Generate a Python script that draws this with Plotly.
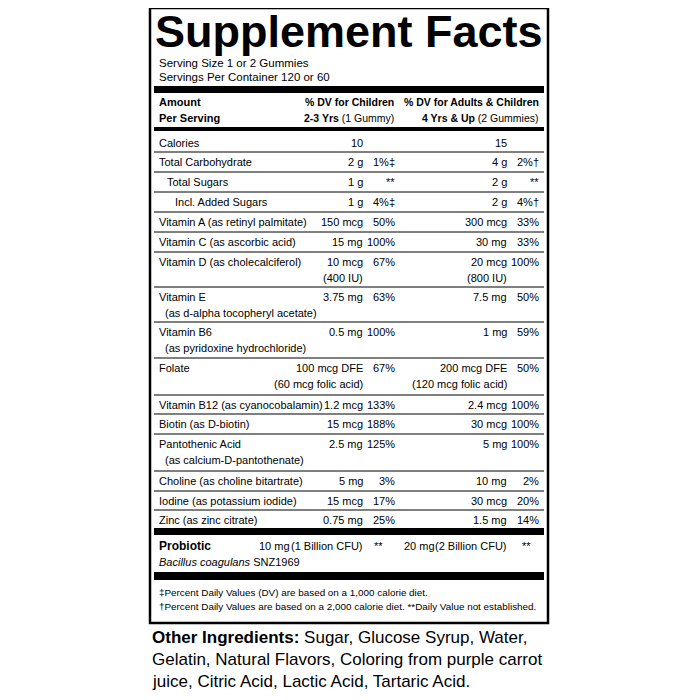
import plotly.graph_objects as go

NARROW = "Liberation Sans Narrow, Arial Narrow, Liberation Sans"
BASE = 11

# rows: label lines, child amount lines, child dv, adult amount lines, adult dv, label indent
labels = [["Calories"], ["Total Carbohydrate"], ["Total Sugars"], ["Incl. Added Sugars"],
          ["Vitamin A (as retinyl palmitate)"], ["Vitamin C (as ascorbic acid)"],
          ["Vitamin D (as cholecalciferol)"], ["Vitamin E", "(as d-alpha tocopheryl acetate)"],
          ["Vitamin B6", "(as pyridoxine hydrochloride)"], ["Folate"],
          ["Vitamin B12 (as cyanocobalamin)"], ["Biotin (as D-biotin)"],
          ["Pantothenic Acid", "(as calcium-D-pantothenate)"], ["Choline (as choline bitartrate)"],
          ["Iodine (as potassium iodide)"], ["Zinc (as zinc citrate)"]]
indents = [0, 0, 8, 16, 0, 0, 0, 0, 0, 0, 0, 0, 0, 0, 0, 0]
child_amt = [["10"], ["2 g"], ["1 g"], ["1 g"], ["150 mcg"], ["15 mg"], ["10 mcg", "(400 IU)"],
             ["3.75 mg"], ["0.5 mg"], ["100 mcg DFE", "(60 mcg folic acid)"], ["1.2 mcg"],
             ["15 mcg"], ["2.5 mg"], ["5 mg"], ["15 mcg"], ["0.75 mg"]]
child_dv = ["", "1%‡", "**", "4%‡", "50%", "100%", "67%", "63%", "100%", "67%", "133%",
            "188%", "125%", "3%", "17%", "25%"]
adult_amt = [["15"], ["4 g"], ["2 g"], ["2 g"], ["300 mcg"], ["30 mg"], ["20 mcg", "(800 IU)"],
             ["7.5 mg"], ["1 mg"], ["200 mcg DFE", "(120 mcg folic acid)"], ["2.4 mcg"],
             ["30 mcg"], ["5 mg"], ["10 mg"], ["30 mcg"], ["1.5 mg"]]
adult_dv = ["", "2%†", "**", "4%†", "33%", "33%", "100%", "50%", "59%", "50%", "100%",
            "100%", "100%", "2%", "20%", "14%"]
row_tops = [133, 152, 172, 192, 212, 232, 252, 287, 322, 358, 395, 414, 434, 471, 491, 510, 528]

fig = go.Figure()
ann = []
shapes = []

def T(x, y, s, size=BASE, anchor="left", bold=False, italic=False, fam=NARROW):
    if bold:
        s = "<b>" + s + "</b>"
    if italic:
        s = "<i>" + s + "</i>"
    ann.append(dict(x=x, y=y, text=s, xref="x", yref="y", showarrow=False, xanchor=anchor,
                    yanchor="middle", font=dict(family=fam, size=size, color="black")))

def R(x0, y0, x1, y1):
    shapes.append(dict(type="rect", x0=x0, y0=y0, x1=x1, y1=y1, xref="x", yref="y",
                       fillcolor="black", line=dict(width=0)))

def L(x0, y0, x1, y1, w=1):
    shapes.append(dict(type="line", x0=x0, y0=y0, x1=x1, y1=y1, xref="x", yref="y",
                       line=dict(color="black", width=w)))

shapes.append(dict(type="rect", x0=150, y0=8, x1=548, y1=623, xref="x", yref="y",
                   line=dict(color="black", width=2.5)))
T(349, 31, "Supplement Facts", size=45, anchor="center", bold=True, fam="Liberation Sans")
T(157, 63, "Serving Size 1 or 2 Gummies", size=11.5)
T(157, 77, "Servings Per Container 120 or 60", size=11.5)
R(154, 86, 544, 93)
T(157, 102, "Amount", bold=True)
T(157, 118, "Per Serving", bold=True)
T(396, 102, "% DV for Children", anchor="right", bold=True, size=10.5)
T(396, 118, "<b>2-3 Yrs</b> (1 Gummy)", anchor="right", size=10.5)
T(541, 102, "% DV for Adults & Children", anchor="right", bold=True, size=10.5)
T(541, 118, "<b>4 Yrs & Up</b> (2 Gummies)", anchor="right", size=10.5)
R(154, 127, 544, 131)

for i in range(len(labels)):
    y = row_tops[i] + 9.5
    for k, s in enumerate(labels[i]):
        T(157 + indents[i] + (6 if k else 0), y + 16 * k, s)
    for k, s in enumerate(child_amt[i]):
        T(365, y + 16 * k, s, anchor="right")
    T(397, y, child_dv[i], anchor="right")
    for k, s in enumerate(adult_amt[i]):
        T(509, y + 16 * k, s, anchor="right")
    T(541, y, adult_dv[i], anchor="right")
    if i > 0:
        L(154, row_tops[i], 544, row_tops[i])

R(154, 528, 544, 535)
T(157, 546, "Probiotic", bold=True, size=12)
T(292, 546, "10 mg", anchor="right")
T(365, 546, "(1 Billion CFU)", anchor="right")
T(385, 546, "**", anchor="right")
T(437, 546, "20 mg", anchor="right")
T(509, 546, "(2 Billion CFU)", anchor="right")
T(533, 546, "**", anchor="right")
T(157, 562, "Bacillus coagulans</i> SNZ1969", italic=True)
R(154, 572, 544, 580)
T(157, 592, "‡Percent Daily Values (DV) are based on a 1,000 calorie diet.", size=9.9, fam="Liberation Sans")
T(157, 606, "†Percent Daily Values are based on a 2,000 calorie diet. **Daily Value not established.", size=9.9, fam="Liberation Sans")

T(150, 637, "<b>Other Ingredients:</b> Sugar, Glucose Syrup, Water,", size=17)
T(150, 659, "Gelatin, Natural Flavors, Coloring from purple carrot", size=17)
T(150, 681, "juice, Citric Acid, Lactic Acid, Tartaric Acid.", size=17)

fig.update_layout(width=700, height=700, margin=dict(l=0, r=0, t=0, b=0),
                  plot_bgcolor="white", paper_bgcolor="white", showlegend=False,
                  annotations=ann, shapes=shapes,
                  xaxis=dict(range=[8, 708], visible=False, fixedrange=True),
                  yaxis=dict(range=[708, 8], visible=False, fixedrange=True))
fig.write_html("out.html")
